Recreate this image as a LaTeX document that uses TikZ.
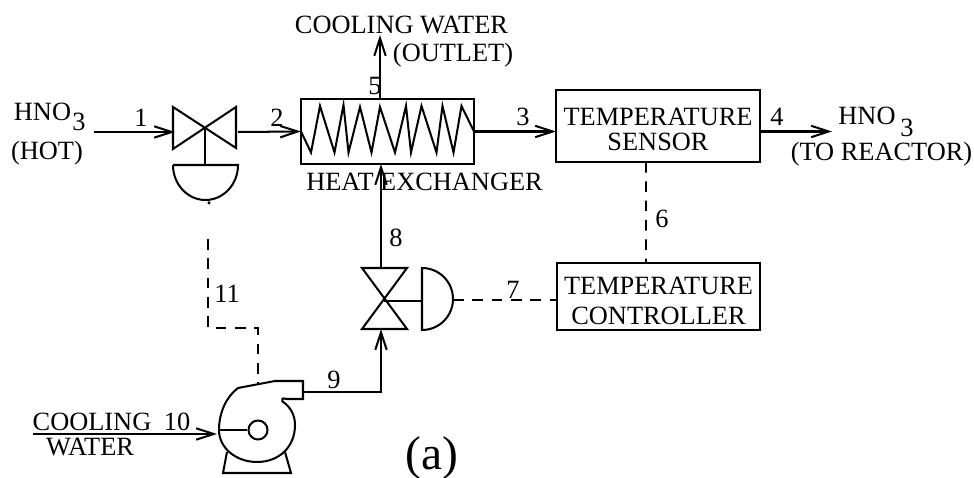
\documentclass[tikz,border=0pt]{standalone}
\usepackage{fontspec}
\setmainfont{Liberation Serif}
\usetikzlibrary{arrows.meta}
\tikzset{
	line/.style={line width=1.15pt},
	flow/.style={line width=1.15pt, -{Straight Barb[length=10pt,width=6.5pt]}},
	signal/.style={line width=1pt, dashed, dash pattern=on 6pt off 5pt},
	unit/.style={draw, line width=1.15pt, outer sep=0pt, inner sep=0pt, align=center},
	label/.style={inner sep=0pt, font=\fontsize{15}{15}\selectfont}
}
\begin{document}
\begin{tikzpicture}
		\useasboundingbox (0,0) rectangle (19.48,9.56);
		% блоки
		\node [unit, minimum width=3.46cm, minimum height=1.3cm] (exchanger) at (7.75,6.93) {};
		\node [unit, minimum width=4.08cm, minimum height=1.44cm, text height=28.4pt, font=\fontsize{15}{14.4}\selectfont] (sensor) at (13.16,7.04) {TEMPERATURE\\SENSOR};
		\node [unit, minimum width=4.06cm, minimum height=1.34cm, text height=31.5pt, font=\fontsize{15}{17}\selectfont] (controller) at (13.17,3.63) {TEMPERATURE\\CONTROLLER};
		% змеевик
		\draw [line] (exchanger.west) -- (6.22,6.51) -- (6.40,7.44) -- (6.69,6.51) -- (6.87,7.46) -- (6.97,6.51)
			-- (7.20,7.42) -- (7.43,6.51) -- (7.60,7.42) -- (7.90,6.51) -- (8.12,7.44) -- (8.22,6.51)
			-- (8.43,7.44) -- (8.73,6.51) -- (8.85,7.44) -- (9.07,6.51) -- (9.23,7.44) -- (exchanger.east);
		% клапан 1
		\coordinate (valvea) at (4.10,7.02);
		\coordinate (actuatora) at (4.10,6.26);
		\draw [line] (3.46,7.42) -- (4.72,6.60) -- (4.72,7.42) -- (3.46,6.58) -- cycle;
		\draw [line] (valvea) -- (actuatora);
		\draw [line] (3.46,6.26) -- (4.76,6.26) arc [start angle=0, end angle=-180, x radius=0.65, y radius=0.70];
		\draw [fill] (4.18,5.50) circle [radius=0.025];
		% клапан 2
		\coordinate (valveb) at (7.68,3.54);
		\coordinate (actuatorb) at (8.44,3.54);
		\coordinate (actuatorc) at (9.06,3.56);
		\draw [line] (7.24,4.20) -- (8.14,4.20) -- (7.24,2.98) -- (8.14,2.98) -- cycle;
		\draw [line] (valveb) -- (actuatorb);
		\draw [line] (8.44,4.20) arc [start angle=90, end angle=-90, x radius=0.62, y radius=0.62] -- cycle;
		% насос
		\node [draw, line width=1.15pt, circle, inner sep=0pt, minimum size=0.38cm] (impeller) at (5.16,0.96) {};
		\coordinate (casing) at (4.38,0.96);
		\draw [line] (6.06,1.94) -- (5.50,1.94) -- (4.76,1.80) .. controls (4.52,1.62) and (4.38,1.30) .. (casing)
			.. controls (4.38,0.60) and (4.72,0.32) .. (5.14,0.32) .. controls (5.58,0.32) and (5.90,0.62) .. (5.90,1.06)
			.. controls (5.90,1.24) and (5.82,1.42) .. (5.65,1.53) .. controls (5.64,1.60) .. (5.73,1.58) -- (6.06,1.58) -- cycle;
		\draw [line] (casing) -- (impeller.west);
		\draw [line] (4.54,0.52) -- (4.46,0.10) -- (5.82,0.10) -- (5.70,0.52);
		% потоки
		\coordinate (hotin) at (1.87,6.92);
		\coordinate (valveain) at (3.50,6.92);
		\coordinate (valveaout) at (4.76,6.92);
		\coordinate (productout) at (16.64,6.93);
		\coordinate (waterout) at (7.60,8.86);
		\coordinate (waterin) at (0.66,0.88);
		\coordinate (pumpin) at (4.34,0.88);
		\coordinate (pumpout) at (6.06,1.72);
		\coordinate (bend) at (7.62,1.72);
		\draw [flow] (hotin) -- (valveain);
		\draw [flow] (valveaout) -- (exchanger.west);
		\draw [flow] (exchanger.east) -- (exchanger.east -| sensor.west);
		\draw [flow] (exchanger.east -| sensor.east) -- (productout);
		\draw [flow] (waterout |- exchanger.north) -- (waterout);
		\draw [flow] (7.62,4.20) -- (7.62,6.28);
		\draw [flow] (pumpout) -- (bend) -- (7.62,2.98);
		\draw [flow] (waterin) -- (pumpin);
		% сигналы
		\coordinate (signalstart) at (4.16,4.78);
		\coordinate (signalbend) at (4.16,3.00);
		\coordinate (signaljog) at (5.16,3.00);
		\coordinate (pumptop) at (5.16,1.90);
		\draw [signal] ([xshift=-0.24cm]sensor.south) -- ([xshift=-0.25cm]controller.north);
		\draw [signal] (actuatorc) -- (actuatorc -| controller.west);
		\draw [signal] (signalstart) -- (signalbend) -- (signaljog) -- (pumptop);
		% подписи
		\node [label] (hnoa) at (0.85,7.32) {HNO};
		\node [label] (hnoasub) at (1.58,7.12) {3};
		\node [label] (hot) at (0.94,6.50) {(HOT)};
		\node [label] (outwater) at (8.03,9.06) {COOLING WATER};
		\node [label] (outlet) at (9.06,8.46) {(OUTLET)};
		\node [label] (hxname) at (8.49,5.92) {HEAT EXCHANGER};
		\node [label] (hnob) at (17.34,7.24) {HNO};
		\node [label] (hnobsub) at (18.14,7.00) {3};
		\node [label] (reactor) at (17.63,6.48) {(TO REACTOR)};
		\node [label] (inwatera) at (1.84,1.12) {COOLING};
		\node [label] (inwaterb) at (1.80,0.62) {WATER};
		\node [label] (st1) at (2.82,7.20) {1};
		\node [label] (st2) at (5.54,7.20) {2};
		\node [label] (st3) at (10.46,7.22) {3};
		\node [label] (st4) at (15.54,7.22) {4};
		\node [label] (st5) at (7.50,7.84) {5};
		\node [label] (st6) at (13.24,5.18) {6};
		\node [label] (st7) at (10.26,3.76) {7};
		\node [label] (st8) at (7.92,4.80) {8};
		\node [label] (st9) at (6.68,1.96) {9};
		\node [label] (st10) at (3.54,1.12) {10};
		\node [label] (st11) at (4.54,3.68) {11};
		\node [inner sep=0pt, font=\fontsize{27}{27}\selectfont] (panel) at (8.64,0.40) {(a)};
\end{tikzpicture}
\end{document}
